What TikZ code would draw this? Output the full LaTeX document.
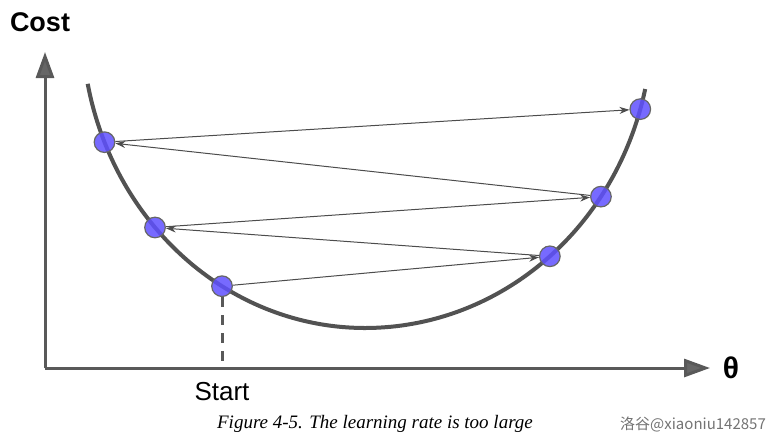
\documentclass[tikz,border=0pt]{standalone}
\usepackage{fontspec}
\setmainfont{Liberation Serif}
\setsansfont{Liberation Sans}
\newfontfamily\cjk{Noto Sans CJK SC}
\usetikzlibrary{arrows.meta}

\begin{document}
\begin{tikzpicture}[x=0.5pt, y=-0.5pt,
    axis/.style={line width=1.5pt, draw=black!65, -{Triangle[width=9pt, length=13pt, fill=black!60]}},
    ball/.style={circle, inner sep=0pt, minimum size=10.3pt, draw=black!60, line width=0.6pt,
      fill={rgb,255:red,95;green,80;blue,255}, fill opacity=0.85},
    jump/.style={line width=0.5pt, draw=black!70, -{Stealth[length=5pt, width=3.5pt]}}]
      \useasboundingbox (0,0) rectangle (781,446);

      % Axes
      \coordinate (origin) at (45,368);
      \draw [axis] (origin) -- (45,52) coordinate (ytip);
      \draw [axis] (origin) -- (710,368) coordinate (xtip);
      \node (cost) at (40,22) {\sffamily\bfseries\fontsize{13.5}{15}\selectfont Cost};
      \node (theta) at (731,368) {\sffamily\bfseries\fontsize{15}{17}\selectfont θ};

      % The cost curve: two quarter ellipses meeting at the minimum
      \draw [line width=2pt, black!68, samples=90, variable=\t]
        plot [domain=168.5:90] ({365+283*cos(\t)}, {23+305*sin(\t)})
        -- plot [domain=90:12.5] ({365+287*cos(\t)}, {23+305*sin(\t)});

      % Successive guesses, bouncing from side to side (angle, half width)
      \foreach \name/\t/\a in {p1/120.35/283, p2/137.9/283, p3/49.9/287,
          p4/157/283, p5/34.7/287, p6/16.4/287} {
        \node [ball] (\name) at ({365+\a*cos(\t)}, {23+305*sin(\t)}) {};
      }
      \draw [jump] (p1) -- (p3);
      \draw [jump] (p3) -- (p2);
      \draw [jump] (p2) -- (p5);
      \draw [jump] (p5) -- (p4);
      \draw [jump] (p4) -- (p6);

      % Starting point marker
      \coordinate (foot) at ([yshift=1pt]p1 |- origin);
      \draw [line width=1.5pt, black!65, dash pattern=on 5pt off 4pt] (p1) -- (foot);
      \node (start) at (222,392) {\sffamily\fontsize{13}{15}\selectfont Start};

      % Caption and watermark
      \node (caption) at (375,424) {\itshape\fontsize{9.5}{11}\selectfont Figure 4-5. The learning rate is too large};
      \node [text=black!55] (mark) at (693,424) {\fontsize{7.5}{9}\selectfont\cjk 洛谷@xiaoniu142857};
\end{tikzpicture}
\end{document}
